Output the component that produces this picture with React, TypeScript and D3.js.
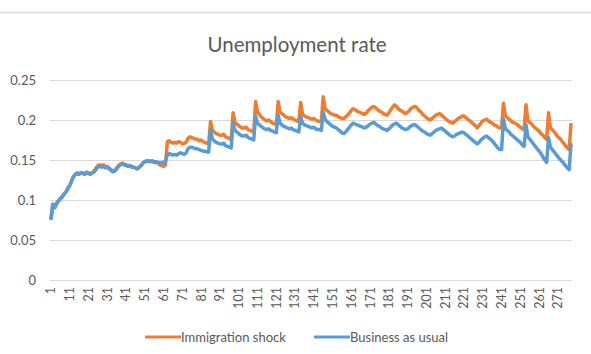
import React from "react";
import * as d3 from "d3";

const title = "Unemployment rate";
const seriesNames = ["Immigration shock", "Business as usual"];
const seriesColors = ["#ED7D31", "#5B9BD5"];
const yTicks = [0, 0.05, 0.1, 0.15, 0.2, 0.25];

// Immigration shock, periods 1..278
const immigrationShock = [
  0.076, 0.094, 0.091, 0.095, 0.099, 0.102, 0.104, 0.108, 0.110, 0.115,
  0.118, 0.124, 0.129, 0.132, 0.134, 0.133, 0.134, 0.134, 0.133, 0.135,
  0.134, 0.133, 0.134, 0.136, 0.140, 0.143, 0.144, 0.143, 0.144, 0.142,
  0.142, 0.140, 0.138, 0.136, 0.137, 0.140, 0.143, 0.145, 0.146, 0.145,
  0.144, 0.143, 0.143, 0.142, 0.141, 0.140, 0.139, 0.141, 0.143, 0.146,
  0.148, 0.149, 0.149, 0.148, 0.149, 0.147, 0.147, 0.146, 0.144, 0.143,
  0.142, 0.144, 0.173, 0.174, 0.172, 0.171, 0.172, 0.171, 0.173, 0.172,
  0.170, 0.171, 0.172, 0.177, 0.179, 0.178, 0.177, 0.176, 0.176, 0.174,
  0.175, 0.173, 0.172, 0.171, 0.170,
  0.198, 0.187, 0.185, 0.183, 0.182, 0.181, 0.181, 0.182, 0.179, 0.178, 0.177, 0.175,
  0.209, 0.197, 0.195, 0.193, 0.191, 0.190, 0.190, 0.191, 0.188, 0.187, 0.186, 0.185,
  0.223, 0.210, 0.207, 0.204, 0.202, 0.200, 0.199, 0.200, 0.198, 0.196, 0.195, 0.194,
  0.223, 0.210, 0.208, 0.206, 0.204, 0.203, 0.202, 0.203, 0.201, 0.200, 0.199, 0.198,
  0.222, 0.207, 0.205, 0.204, 0.203, 0.202, 0.201, 0.202, 0.200, 0.199, 0.198, 0.198,
  0.229, 0.214, 0.212, 0.210, 0.208, 0.207, 0.206, 0.206, 0.204, 0.203, 0.202, 0.202,
  0.204, 0.206, 0.209, 0.212, 0.214, 0.213, 0.211, 0.210, 0.209, 0.208,
  0.207, 0.209, 0.212, 0.214, 0.216, 0.217, 0.215, 0.213, 0.211, 0.210,
  0.208, 0.207, 0.206, 0.209, 0.213, 0.216, 0.219, 0.217, 0.214, 0.212,
  0.211, 0.209, 0.208, 0.210, 0.212, 0.215, 0.216, 0.217, 0.215, 0.212,
  0.210, 0.207, 0.205, 0.203, 0.201, 0.200, 0.202, 0.204, 0.206, 0.207,
  0.208, 0.206, 0.204, 0.202, 0.200, 0.198, 0.197, 0.196, 0.198, 0.200,
  0.202, 0.203, 0.205, 0.205, 0.203, 0.201, 0.199, 0.197, 0.195, 0.193,
  0.190, 0.193, 0.196, 0.199, 0.200, 0.201, 0.199, 0.197, 0.196, 0.194,
  0.193, 0.191, 0.190, 0.191,
  0.221, 0.205, 0.203, 0.201, 0.199, 0.197, 0.196, 0.195, 0.193, 0.191, 0.189, 0.188,
  0.219, 0.199, 0.197, 0.195, 0.192, 0.190, 0.188, 0.186, 0.183, 0.181, 0.178, 0.176,
  0.209, 0.190, 0.188, 0.185, 0.182, 0.179, 0.177, 0.174, 0.171, 0.168, 0.165, 0.163,
  0.196,
];

// Business as usual, periods 1..278
const businessAsUsual = [
  0.075, 0.095, 0.090, 0.096, 0.099, 0.101, 0.104, 0.107, 0.110, 0.114,
  0.118, 0.124, 0.129, 0.132, 0.133, 0.132, 0.134, 0.133, 0.132, 0.134,
  0.133, 0.132, 0.134, 0.135, 0.138, 0.141, 0.142, 0.141, 0.142, 0.140,
  0.141, 0.139, 0.137, 0.135, 0.136, 0.139, 0.142, 0.144, 0.145, 0.144,
  0.143, 0.142, 0.143, 0.141, 0.141, 0.140, 0.139, 0.141, 0.143, 0.146,
  0.148, 0.148, 0.149, 0.148, 0.149, 0.147, 0.148, 0.147, 0.146, 0.147,
  0.146, 0.149, 0.156, 0.158, 0.157, 0.156, 0.157, 0.156, 0.158, 0.159,
  0.158, 0.157, 0.159, 0.164, 0.166, 0.166, 0.165, 0.164, 0.164, 0.163,
  0.162, 0.161, 0.161, 0.160, 0.160,
  0.188, 0.176, 0.174, 0.172, 0.171, 0.170, 0.170, 0.171, 0.168, 0.167, 0.166, 0.165,
  0.197, 0.187, 0.185, 0.183, 0.181, 0.180, 0.180, 0.181, 0.178, 0.177, 0.176, 0.175,
  0.205, 0.196, 0.194, 0.192, 0.190, 0.189, 0.188, 0.189, 0.187, 0.186, 0.185, 0.184,
  0.206, 0.196, 0.194, 0.192, 0.191, 0.190, 0.189, 0.190, 0.188, 0.187, 0.186, 0.185,
  0.204, 0.196, 0.194, 0.193, 0.192, 0.191, 0.190, 0.191, 0.189, 0.188, 0.188, 0.187,
  0.210, 0.201, 0.198, 0.196, 0.194, 0.192, 0.191, 0.190, 0.188, 0.186, 0.184, 0.183,
  0.185, 0.188, 0.191, 0.194, 0.196, 0.195, 0.194, 0.193, 0.192, 0.191,
  0.190, 0.191, 0.193, 0.195, 0.196, 0.197, 0.195, 0.193, 0.192, 0.190,
  0.189, 0.188, 0.187, 0.189, 0.191, 0.194, 0.195, 0.196, 0.194, 0.192,
  0.190, 0.189, 0.188, 0.189, 0.191, 0.193, 0.194, 0.194, 0.192, 0.190,
  0.188, 0.186, 0.185, 0.183, 0.182, 0.181, 0.183, 0.185, 0.187, 0.188,
  0.189, 0.190, 0.188, 0.186, 0.184, 0.182, 0.180, 0.179, 0.180, 0.182,
  0.183, 0.184, 0.185, 0.184, 0.182, 0.180, 0.178, 0.176, 0.174, 0.172,
  0.170, 0.172, 0.175, 0.177, 0.179, 0.180, 0.178, 0.176, 0.174, 0.171,
  0.168, 0.165, 0.163, 0.163,
  0.201, 0.189, 0.187, 0.185, 0.182, 0.180, 0.178, 0.176, 0.174, 0.172, 0.169, 0.167,
  0.194, 0.179, 0.176, 0.173, 0.170, 0.167, 0.164, 0.161, 0.158, 0.154, 0.150, 0.147,
  0.178, 0.166, 0.163, 0.160, 0.157, 0.154, 0.151, 0.149, 0.146, 0.143, 0.140, 0.138,
  0.171,
];

const periods = immigrationShock.map((_, i) => i + 1);
const xTickLabels = periods.filter((p) => (p - 1) % 10 === 0);

const W = 591;
const H = 354;
const plot = { left: 50, right: 572, top: 80, bottom: 280 };
const font = "Lato, 'Open Sans', sans-serif";
const textColor = "#595959";
const gridColor = "#d9d9d9";

export default function App() {
  const x = d3
    .scalePoint<number>()
    .domain(periods)
    .range([plot.left, plot.right])
    .padding(0.5);
  const y = d3.scaleLinear().domain([0, 0.25]).range([plot.bottom, plot.top]);
  const line = d3
    .line<number>()
    .x((_, i) => x(periods[i]) as number)
    .y((d) => y(d));
  const data = [immigrationShock, businessAsUsual];

  const legend = [
    { lx: 145, tx: 181 },
    { lx: 314, tx: 350 },
  ];

  return (
    <svg
      width={W}
      height={H}
      style={{ position: "absolute", left: 0, top: 0, background: "#fff" }}
    >
      <line x1={0} x2={W} y1={12.5} y2={12.5} stroke={gridColor} strokeWidth={1.5} />
      <text
        x={297}
        y={52}
        textAnchor="middle"
        fontFamily={font}
        fontSize={20.5}
        fill={textColor}
      >
        {title}
      </text>
      {yTicks.map((t) => (
        <g key={t}>
          <line
            x1={plot.left}
            x2={plot.right}
            y1={Math.round(y(t)) + 0.5}
            y2={Math.round(y(t)) + 0.5}
            stroke={gridColor}
            strokeWidth={1}
          />
          <text
            x={36}
            y={y(t)}
            dy="0.35em"
            textAnchor="end"
            fontFamily={font}
            fontSize={13}
            fill={textColor}
          >
            {t === 0 ? "0" : String(t)}
          </text>
        </g>
      ))}
      {xTickLabels.map((p) => (
        <text
          key={p}
          transform={`translate(${x(p)},287) rotate(-90)`}
          dy="0.35em"
          textAnchor="end"
          fontFamily={font}
          fontSize={12.5}
          fill={textColor}
        >
          {p}
        </text>
      ))}
      {data.map((s, k) => (
        <path
          key={k}
          d={line(s) as string}
          fill="none"
          stroke={seriesColors[k]}
          strokeWidth={3.5}
          strokeLinejoin="round"
        />
      ))}
      {seriesNames.map((n, k) => (
        <g key={n}>
          <line
            x1={legend[k].lx}
            x2={legend[k].tx}
            y1={337}
            y2={337}
            stroke={seriesColors[k]}
            strokeWidth={3}
          />
          <text
            x={legend[k].tx}
            y={337}
            dy="0.35em"
            fontFamily={font}
            fontSize={13}
            fill={textColor}
          >
            {n}
          </text>
        </g>
      ))}
    </svg>
  );
}
